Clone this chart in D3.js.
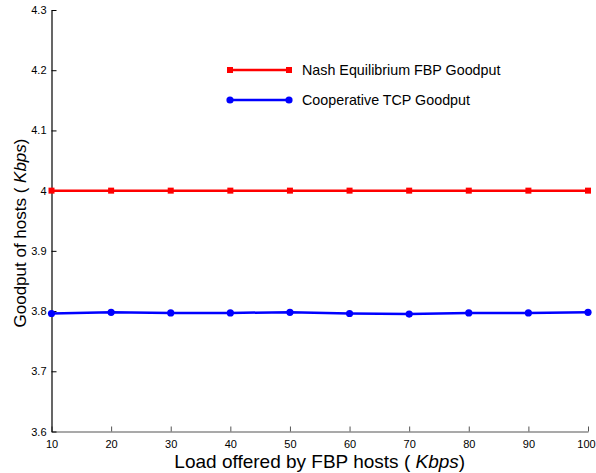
<!DOCTYPE html>
<html>
<head>
<meta charset="utf-8">
<script src="https://cdn.jsdelivr.net/npm/d3@7"></script>
<style>
  body { margin: 0; background: #fff; }
  text { font-family: "Liberation Sans", Arial, sans-serif; }
</style>
</head>
<body>
<svg width="596" height="473"></svg>
<script>
// data
var load = [10, 20, 30, 40, 50, 60, 70, 80, 90, 100];
var nashGoodput = [4, 4, 4, 4, 4, 4, 4, 4, 4, 4];
var coopGoodput = [3.796, 3.798, 3.797, 3.797, 3.798, 3.796, 3.795, 3.797, 3.797, 3.798];
var xTicks = [10, 20, 30, 40, 50, 60, 70, 80, 90, 100];
var yTicks = [3.6, 3.7, 3.8, 3.9, 4, 4.1, 4.2, 4.3];
var seriesNames = ["Nash Equilibrium FBP Goodput", "Cooperative TCP Goodput"];

var svg = d3.select("svg"),
    margin = {top: 10, right: 8, bottom: 41.5, left: 51.5},
    width = +svg.attr("width") - margin.left - margin.right,
    height = +svg.attr("height") - margin.top - margin.bottom,
    g = svg.append("g").attr("transform", "translate(" + margin.left + "," + margin.top + ")");

var x = d3.scaleLinear().domain([10, 100]).range([0, width]);
var y = d3.scaleLinear().domain([3.6, 4.3]).range([height, 0]);

// x axis
var xAxis = g.append("g")
    .attr("transform", "translate(0," + height + ")")
    .call(d3.axisBottom(x).tickValues(xTicks).tickSize(-5).tickSizeOuter(0).tickPadding(9)
      .tickFormat(d3.format("d")));
xAxis.select(".domain").attr("stroke", "#555").attr("stroke-width", 1.2);
xAxis.selectAll(".tick line").attr("stroke", "#555");
xAxis.selectAll("text").attr("font-size", 11).attr("fill", "#000");
// last label sits against the window edge
xAxis.selectAll("text").filter(function(d) { return d == 100; }).attr("dx", -2);

// y axis
var yAxis = g.append("g")
    .call(d3.axisLeft(y).tickValues(yTicks).tickSize(-5).tickSizeOuter(0).tickPadding(5)
      .tickFormat(function(d) { return d3.format("")(+d.toFixed(1)); }));
yAxis.select(".domain").attr("stroke", "#000").attr("stroke-width", 1.2);
yAxis.selectAll("text").attr("font-size", 11).attr("fill", "#000");

var line = d3.line()
    .x(function(d) { return x(d[0]); })
    .y(function(d) { return y(d[1]); });

var nash = d3.zip(load, nashGoodput);
var coop = d3.zip(load, coopGoodput);

g.append("path")
    .datum(nash)
    .attr("fill", "none")
    .attr("stroke", "#ff0000")
    .attr("stroke-width", 2.5)
    .attr("d", line);

g.selectAll(".sq")
    .data(nash)
  .enter().append("rect")
    .attr("x", function(d) { return x(d[0]) - 3; })
    .attr("y", function(d) { return y(d[1]) - 3; })
    .attr("width", 6)
    .attr("height", 6)
    .attr("fill", "#ff0000");

g.append("path")
    .datum(coop)
    .attr("fill", "none")
    .attr("stroke", "#0000ff")
    .attr("stroke-width", 2.5)
    .attr("d", line);

g.selectAll(".dot")
    .data(coop)
  .enter().append("circle")
    .attr("cx", function(d) { return x(d[0]); })
    .attr("cy", function(d) { return y(d[1]); })
    .attr("r", 3.6)
    .attr("fill", "#0000ff");

// legend
var legend = svg.append("g").attr("transform", "translate(230,70)");
var colors = ["#ff0000", "#0000ff"];
seriesNames.forEach(function(name, i) {
  var row = legend.append("g").attr("transform", "translate(0," + i * 30 + ")");
  row.append("line")
      .attr("x1", 0).attr("x2", 59)
      .attr("stroke", colors[i]).attr("stroke-width", 2.5);
  [0, 59].forEach(function(px) {
    if (i == 0) {
      row.append("rect").attr("x", px - 3).attr("y", -3).attr("width", 6).attr("height", 6).attr("fill", colors[i]);
    } else {
      row.append("circle").attr("cx", px).attr("r", 3.6).attr("fill", colors[i]);
    }
  });
  row.append("text")
      .attr("x", 72)
      .attr("dy", "0.35em")
      .attr("font-size", 14.3)
      .text(name);
});

// axis titles
var xt = svg.append("text")
    .attr("x", margin.left + width / 2)
    .attr("y", 468)
    .attr("text-anchor", "middle")
    .attr("font-size", 19);
xt.append("tspan").text("Load offered by FBP hosts ( ");
xt.append("tspan").attr("font-style", "italic").text("Kbps");
xt.append("tspan").text(")");

var yt = svg.append("text")
    .attr("transform", "translate(26,233) rotate(-90)")
    .attr("text-anchor", "middle")
    .attr("font-size", 17);
yt.append("tspan").text("Goodput of hosts ( ");
yt.append("tspan").attr("font-style", "italic").text("Kbps");
yt.append("tspan").text(")");
</script>
</body>
</html>
